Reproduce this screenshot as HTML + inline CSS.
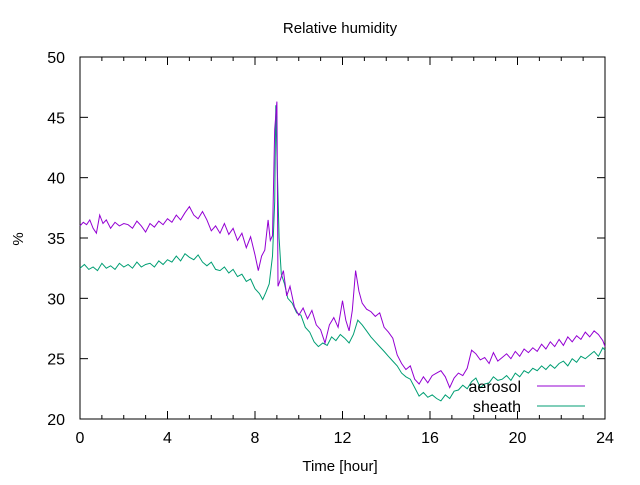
<!DOCTYPE html>
<html><head><meta charset="utf-8"><style>
body{margin:0;background:#fff}
svg{font-family:"Liberation Sans","DejaVu Sans",sans-serif}
</style></head><body>
<svg width="640" height="480" viewBox="0 0 640 480">
<rect width="640" height="480" fill="#fff"/>
<g id="axes"></g>
<g id="series"></g>
<text x="340" y="33" font-size="15" text-anchor="middle">Relative humidity</text>
<text x="340" y="471" font-size="15" text-anchor="middle">Time [hour]</text>
<text x="18" y="244" font-size="15" text-anchor="middle" transform="rotate(-90 18 239)">%</text>
<g>
<text x="521" y="392" font-size="16" text-anchor="end">aerosol</text>
<line x1="537" y1="386" x2="585" y2="386" stroke="#9400d3"/>
<text x="521" y="412" font-size="16" text-anchor="end">sheath</text>
<line x1="537" y1="406" x2="585" y2="406" stroke="#009e73"/>
</g>
</svg>
<script>
const xTicks=[0,4,8,12,16,20,24];
const yTicks=[20,25,30,35,40,45,50];
const aerosolT=[0,0.15,0.3,0.45,0.6,0.75,0.9,1.05,1.2,1.4,1.6,1.8,2,2.2,2.4,2.6,2.8,3,3.2,3.4,3.6,3.8,4,4.2,4.4,4.6,4.8,5,5.2,5.4,5.6,5.8,6,6.2,6.4,6.6,6.8,7,7.2,7.4,7.6,7.8,8,8.15,8.3,8.45,8.6,8.7,8.8,8.9,9.0,9.05,9.15,9.3,9.45,9.6,9.8,10,10.2,10.4,10.6,10.8,11,11.2,11.4,11.6,11.8,12,12.15,12.3,12.45,12.6,12.75,12.9,13.1,13.3,13.5,13.7,13.9,14.1,14.3,14.5,14.7,14.9,15.1,15.3,15.5,15.7,15.9,16.1,16.3,16.5,16.7,16.9,17.1,17.3,17.5,17.7,17.9,18.1,18.3,18.5,18.7,18.9,19.1,19.3,19.5,19.7,19.9,20.1,20.3,20.5,20.7,20.9,21.1,21.3,21.5,21.7,21.9,22.1,22.3,22.5,22.7,22.9,23.1,23.3,23.5,23.7,23.9,24];
const aerosolV=[36.0,36.3,36.1,36.5,35.8,35.4,36.9,36.2,36.5,35.8,36.3,36.0,36.2,36.1,35.8,36.4,36.0,35.5,36.2,35.9,36.4,36.1,36.6,36.3,36.9,36.5,37.1,37.6,36.9,36.6,37.2,36.5,35.6,36.0,35.4,36.2,35.3,35.8,34.8,35.4,34.2,35.1,33.6,32.3,33.5,34.0,36.5,34.8,35.2,44.0,46.3,31.0,31.5,32.3,30.2,31.0,29.3,28.6,29.2,28.3,29.0,27.8,27.4,26.3,27.8,28.4,27.6,29.8,28.2,27.3,29.0,32.3,30.6,29.6,29.1,28.9,28.5,28.8,27.6,27.2,26.7,25.3,24.6,24.1,24.4,23.3,22.9,23.5,23.0,23.6,23.8,24.0,23.5,22.6,23.4,23.8,23.6,24.2,25.7,25.4,24.9,25.1,24.6,25.5,24.8,25.1,25.4,25.0,25.6,25.2,25.8,25.5,25.9,25.6,26.2,25.8,26.4,26.0,26.6,26.1,26.8,26.4,26.9,26.6,27.2,26.8,27.3,27.0,26.5,26.0];
const sheathT=[0,0.2,0.4,0.6,0.8,1.0,1.2,1.4,1.6,1.8,2.0,2.2,2.4,2.6,2.8,3.0,3.2,3.4,3.6,3.8,4.0,4.2,4.4,4.6,4.8,5.0,5.2,5.4,5.6,5.8,6.0,6.2,6.4,6.6,6.8,7.0,7.2,7.4,7.6,7.8,8.0,8.2,8.35,8.5,8.65,8.8,8.9,8.95,9.0,9.1,9.2,9.35,9.5,9.7,9.9,10.1,10.3,10.5,10.7,10.9,11.1,11.3,11.5,11.7,11.9,12.1,12.3,12.5,12.7,12.9,13.1,13.3,13.5,13.7,13.9,14.1,14.3,14.5,14.7,14.9,15.1,15.3,15.5,15.7,15.9,16.1,16.3,16.5,16.7,16.9,17.1,17.3,17.5,17.7,17.9,18.1,18.3,18.5,18.7,18.9,19.1,19.3,19.5,19.7,19.9,20.1,20.3,20.5,20.7,20.9,21.1,21.3,21.5,21.7,21.9,22.1,22.3,22.5,22.7,22.9,23.1,23.3,23.5,23.7,23.9,24];
const sheathV=[32.5,32.8,32.4,32.6,32.3,32.9,32.5,32.7,32.4,32.9,32.6,32.8,32.5,33.0,32.6,32.8,32.9,32.6,33.1,32.8,33.2,33.0,33.5,33.1,33.7,33.4,33.2,33.6,33.0,32.7,33.0,32.4,32.3,32.6,32.1,32.4,31.8,32.0,31.4,31.6,30.8,30.4,29.9,30.5,31.2,33.5,38.0,46.0,42.0,35.0,32.0,31.2,30.0,29.6,28.8,28.6,27.6,27.2,26.4,26.0,26.3,26.1,26.8,26.5,27.0,26.7,26.3,27.0,28.2,27.8,27.3,26.8,26.4,26.0,25.6,25.2,24.8,24.4,23.8,23.5,23.3,22.6,21.9,22.2,21.8,22.0,21.7,21.5,22.0,21.7,22.3,22.4,22.8,22.5,23.1,23.4,22.6,22.9,23.0,23.5,23.2,23.3,23.6,23.2,23.8,23.5,24.0,23.8,24.2,24.0,24.4,24.1,24.5,24.2,24.6,24.8,24.4,25.0,24.7,25.2,25.0,25.3,25.6,25.2,25.9,25.7];
const NS="http://www.w3.org/2000/svg";
const X0=80,X1=605,Y0=419,Y1=57;
function xs(t){return X0+(t/24)*(X1-X0);}
function ys(v){return Y0-(v-20)/30*(Y0-Y1);}
function mk(tag,attrs,parent){const e=document.createElementNS(NS,tag);for(const k in attrs)e.setAttribute(k,attrs[k]);parent.appendChild(e);return e;}
const ax=document.getElementById('axes');
const frame=mk('rect',{x:X0,y:Y1,width:X1-X0,height:Y0-Y1,fill:'none',stroke:'#000','stroke-width':1},ax);


for(let h=0;h<=24;h++){
  const len=(h%4===0)?8:4;const x=xs(h);
  mk('line',{x1:x,y1:Y0,x2:x,y2:Y0-len,stroke:'#000'},ax);
  mk('line',{x1:x,y1:Y1,x2:x,y2:Y1+len,stroke:'#000'},ax);
}
xTicks.forEach(t=>{
  const tx=mk('text',{x:xs(t),y:Y0+24,'font-size':16,'text-anchor':'middle'},ax);
  tx.textContent=t;
  
  
});
yTicks.forEach(v=>{
  const y=ys(v);
  mk('line',{x1:X0,y1:y,x2:X0+8,y2:y,stroke:'#000'},ax);
  mk('line',{x1:X1,y1:y,x2:X1-8,y2:y,stroke:'#000'},ax);
  const tx=mk('text',{x:X0-15,y:y+6,'font-size':16,'text-anchor':'end'},ax);
  tx.textContent=v;
  
  
});
const sg=document.getElementById('series');
function line(T,V,color,name){
  const d=T.map((t,i)=>(i?'L':'M')+xs(t).toFixed(1)+' '+ys(V[i]).toFixed(1)).join('');
  const p=mk('path',{d:d,fill:'none',stroke:color,'stroke-width':1},sg);
  
  
}
line(sheathT,sheathV,'#009e73','sheath-line');
line(aerosolT,aerosolV,'#9400d3','aerosol-line');
</script>
</body></html>
